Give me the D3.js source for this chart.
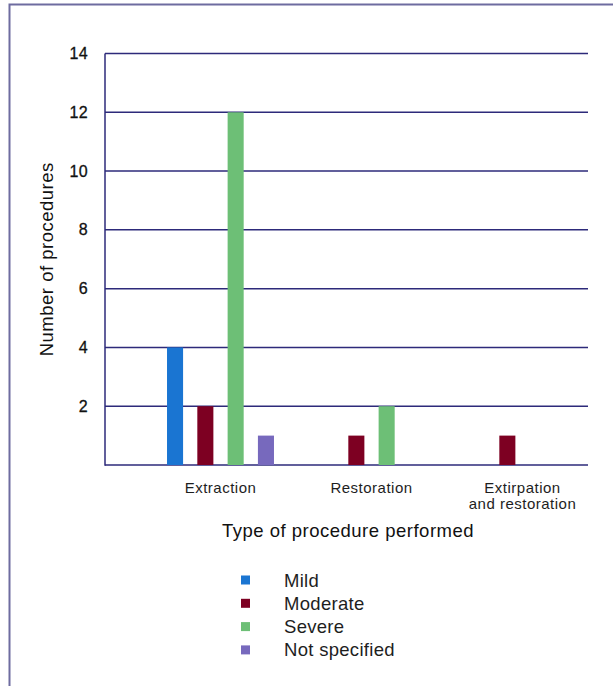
<!DOCTYPE html>
<html>
<head>
<meta charset="utf-8">
<script src="https://cdn.jsdelivr.net/npm/d3@7"></script>
<style>
  body { margin: 0; background: #fff; }
  text { font-family: "Liberation Sans", Arial, sans-serif; fill: #1e1e1e; }
</style>
</head>
<body>
<div id="chart"></div>
<script>
// procedure counts by severity
const categories = ["Extraction", "Restoration", "Extirpation and restoration"];
const series = ["Mild", "Moderate", "Severe", "Not specified"];
const mild = [4, 0, 0];
const moderate = [2, 1, 1];
const severe = [12, 2, 0];
const notSpecified = [1, 0, 0];
const yTicks = [2, 4, 6, 8, 10, 12, 14];

const colors = ["#1a75d2", "#7d0022", "#6dbf76", "#7769bd"];
const values = [mild, moderate, severe, notSpecified];

const width = 613, height = 686;
const svg = d3.select("#chart").append("svg")
    .attr("width", width)
    .attr("height", height);

// outer frame (runs off the right and bottom edges)
svg.append("rect")
    .attr("x", 9.5).attr("y", 4.5)
    .attr("width", 700).attr("height", 800)
    .attr("fill", "none")
    .attr("stroke", "#6e6ca0")
    .attr("stroke-width", 2);

const plot = { left: 105, right: 588, top: 53.5, bottom: 465 };

const y = d3.scaleLinear()
    .domain([0, 14])
    .range([plot.bottom, plot.top]);

const x = d3.scaleBand()
    .domain(categories)
    .range([145, 598]);

const xInner = d3.scaleBand()
    .domain(series)
    .range([-60.6, 60.6])
    .paddingInner(0.47)
    .paddingOuter(0.235);

// gridlines
svg.append("g")
  .selectAll("line")
  .data([0].concat(yTicks))
  .join("line")
    .attr("x1", plot.left)
    .attr("x2", plot.right)
    .attr("y1", d => y(d))
    .attr("y2", d => y(d))
    .attr("stroke", "#2d2a7a")
    .attr("stroke-width", 1.5);

// y axis line
svg.append("line")
    .attr("x1", plot.left).attr("x2", plot.left)
    .attr("y1", plot.top).attr("y2", plot.bottom + 0.75)
    .attr("stroke", "#2d2a7a")
    .attr("stroke-width", 1.5);

// y tick labels
svg.append("g")
  .selectAll("text")
  .data(yTicks)
  .join("text")
    .attr("x", 88)
    .attr("y", d => y(d) + 5.5)
    .attr("text-anchor", "end")
    .style("font-size", "16px")
    .style("letter-spacing", "0.4px")
    .style("fill", "#111")
    .style("stroke", "#111")
    .style("stroke-width", "0.3px")
    .text(d => d);

// bars
const bars = [];
categories.forEach((c, i) => {
  series.forEach((s, j) => {
    if (values[j][i] > 0) bars.push({ cat: c, s: s, v: values[j][i], color: colors[j] });
  });
});

svg.append("g")
  .selectAll("rect")
  .data(bars)
  .join("rect")
    .attr("x", d => x(d.cat) + x.bandwidth() / 2 + xInner(d.s))
    .attr("width", xInner.bandwidth())
    .attr("y", d => y(d.v))
    .attr("height", d => y(0) - y(d.v))
    .attr("fill", d => d.color);

// category labels
const catLabels = svg.append("g")
  .selectAll("text")
  .data(categories)
  .join("text")
    .attr("x", d => x(d) + x.bandwidth() / 2)
    .attr("y", 493)
    .attr("text-anchor", "middle")
    .style("font-size", "15px")
    .style("letter-spacing", "0.5px");

catLabels.each(function(d) {
  const lines = d === "Extirpation and restoration" ? ["Extirpation", "and restoration"] : [d];
  d3.select(this).selectAll("tspan")
    .data(lines)
    .join("tspan")
      .attr("x", x(d) + x.bandwidth() / 2)
      .attr("dy", (l, k) => k === 0 ? 0 : 15.5)
      .text(l => l);
});

// axis titles
svg.append("text")
    .attr("x", 348)
    .attr("y", 537)
    .attr("text-anchor", "middle")
    .style("font-size", "18.5px")
    .style("letter-spacing", "0.5px")
    .style("fill", "#111")
    .text("Type of procedure performed");

svg.append("text")
    .attr("transform", `translate(53, ${(plot.top + plot.bottom) / 2}) rotate(-90)`)
    .attr("text-anchor", "middle")
    .style("font-size", "18.5px")
    .style("letter-spacing", "0.5px")
    .style("fill", "#111")
    .text("Number of procedures");

// legend
const legend = svg.append("g")
  .selectAll("g")
  .data(series)
  .join("g")
    .attr("transform", (d, i) => `translate(241, ${580 + i * 23.3})`);

legend.append("rect")
    .attr("x", 0).attr("y", -4.5)
    .attr("width", 9).attr("height", 9)
    .attr("fill", (d, i) => colors[i]);

legend.append("text")
    .attr("x", 43)
    .attr("y", 6.5)
    .style("font-size", "18.5px")
    .style("letter-spacing", "0.3px")
    .text(d => d);
</script>
</body>
</html>
